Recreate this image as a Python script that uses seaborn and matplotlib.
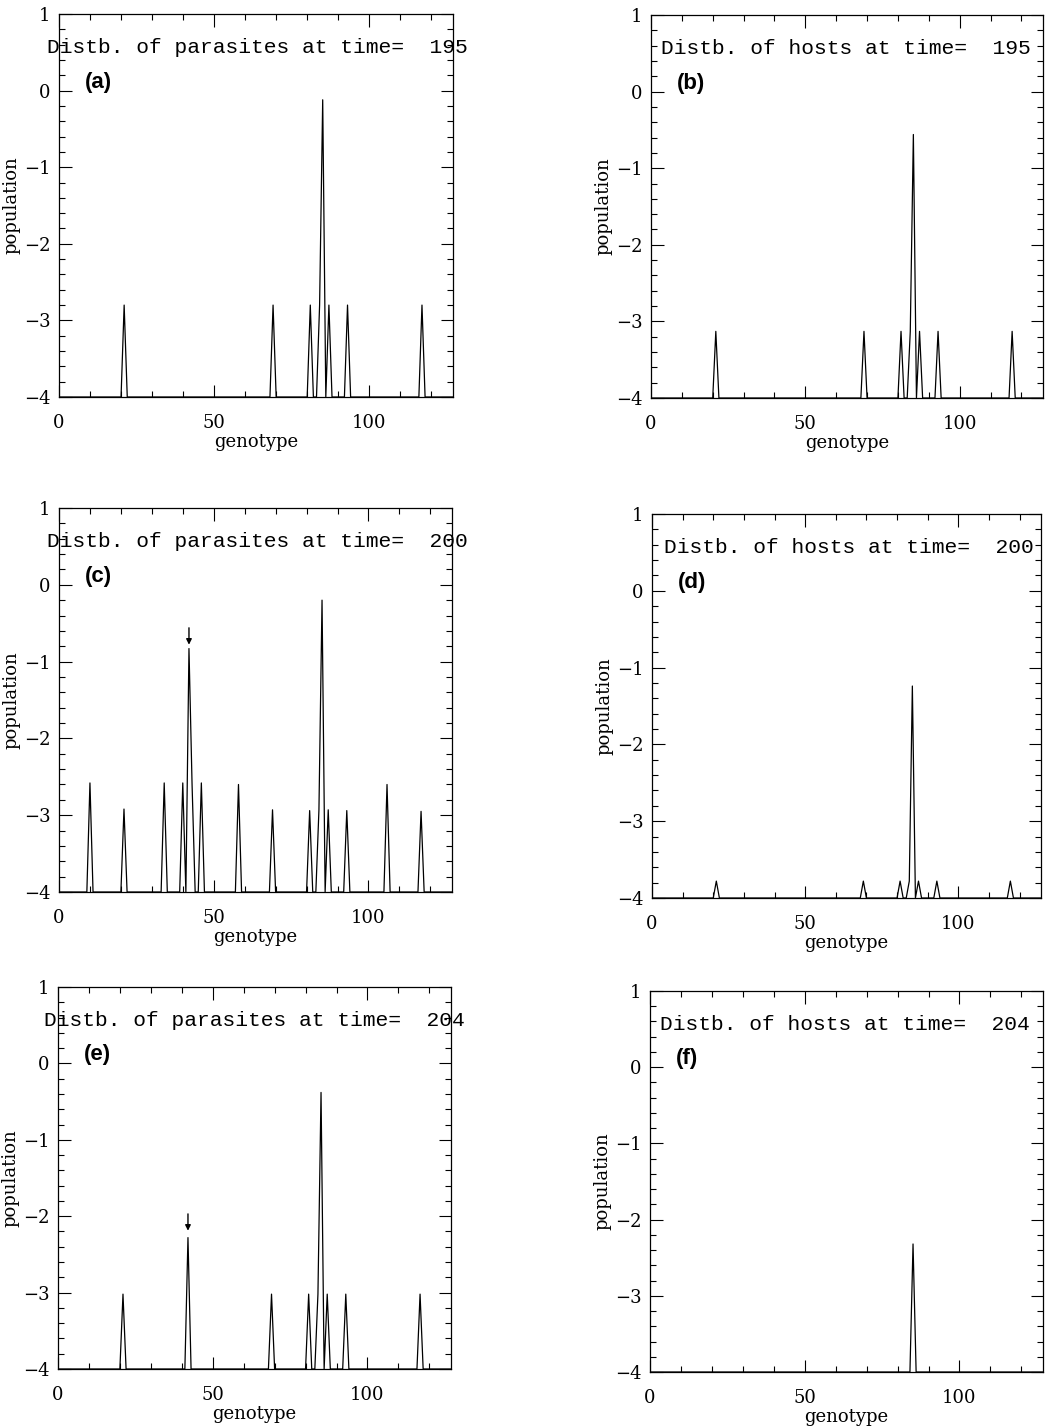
"""
Host-parasite genotype distributions at t = 195, 200, 204 (log10 population).
"""

import matplotlib
matplotlib.use("Agg")

import matplotlib.pyplot as plt
import numpy as np
import pandas as pd
import seaborn as sns

# === data: peaks only (genotype, log10 population); everything else sits at the floor ===
FLOOR = -4.0
N_GENOTYPES = 128

par195_geno = [21, 69, 81, 84, 85, 87, 93, 117]
par195_vals = [-2.8, -2.8, -2.8, -2.8, -0.12, -2.8, -2.8, -2.8]

host195_geno = [21, 69, 81, 84, 85, 87, 93, 117]
host195_vals = [-3.13, -3.13, -3.13, -3.13, -0.56, -3.13, -3.13, -3.13]

par200_geno = [10, 21, 34, 40, 42, 43, 46, 58, 69, 81, 84, 85, 87, 93, 106, 117]
par200_vals = [-2.58, -2.92, -2.58, -2.58, -0.83, -2.6, -2.58, -2.6,
               -2.93, -2.94, -2.93, -0.2, -2.93, -2.94, -2.6, -2.95]

host200_geno = [21, 69, 81, 84, 85, 87, 93, 117]
host200_vals = [-3.78, -3.78, -3.78, -3.78, -1.24, -3.78, -3.78, -3.78]

par204_geno = [21, 42, 69, 81, 84, 85, 87, 93, 117]
par204_vals = [-3.02, -2.28, -3.02, -3.02, -3.02, -0.38, -3.02, -3.02, -3.02]

host204_geno = [85]
host204_vals = [-2.32]

titles = [
    "Distb. of parasites at time=  195",
    "Distb. of hosts at time=  195",
    "Distb. of parasites at time=  200",
    "Distb. of hosts at time=  200",
    "Distb. of parasites at time=  204",
    "Distb. of hosts at time=  204",
]
panel_tags = ["(a)", "(b)", "(c)", "(d)", "(e)", "(f)"]
arrow_tips = [None, None, (42, -0.56, -0.78), None, (42, -1.97, -2.19), None]

W, H = 1049, 1428
# axes boxes in pixels: left, top, right, bottom
boxes = [
    (59, 14, 453, 397), (651, 15, 1043, 398),
    (59, 508, 452, 892), (652, 514, 1041, 898),
    (58, 987, 451, 1369), (650, 991, 1043, 1372),
]
title_x = [-3.9, 3.2, -4.0, 3.9, -4.5, 3.3]


def make_series(geno, vals):
    pop = np.full(N_GENOTYPES, FLOOR)
    pop[geno] = vals
    return pd.DataFrame({"genotype": np.arange(N_GENOTYPES), "population": pop})


def main() -> None:
    sns.set_style("ticks")
    plt.rcParams["font.family"] = ["DejaVu Serif"]
    plt.rcParams["text.color"] = "black"
    plt.rcParams["axes.labelcolor"] = "black"
    plt.rcParams["xtick.color"] = "black"
    plt.rcParams["ytick.color"] = "black"

    fig = plt.figure(figsize=(W / 100, H / 100), dpi=100)
    series = [
        make_series(par195_geno, par195_vals), make_series(host195_geno, host195_vals),
        make_series(par200_geno, par200_vals), make_series(host200_geno, host200_vals),
        make_series(par204_geno, par204_vals), make_series(host204_geno, host204_vals),
    ]

    for i, df in enumerate(series):
        l, t, r, b = boxes[i]
        ax = fig.add_axes([l / W, 1 - b / H, (r - l) / W, (b - t) / H])
        sns.lineplot(data=df, x="genotype", y="population", ax=ax,
                     color="black", linewidth=0.9)

        ax.set_xlim(0, 127)
        ax.set_ylim(-4, 1)
        ax.set_xticks([0, 50, 100])
        ax.set_xticks(np.arange(0, 128, 10), minor=True)
        ax.set_yticks([-4, -3, -2, -1, 0, 1])
        ax.set_yticks(np.arange(-4, 1.01, 0.2), minor=True)
        ax.tick_params(which="both", direction="in", top=True, right=True,
                       width=0.8, color="black")
        ax.tick_params(which="major", length=9)
        ax.tick_params(which="minor", length=4.5)
        ax.tick_params(axis="x", which="major", pad=12, labelsize=13)
        ax.tick_params(axis="y", which="major", pad=6, labelsize=13)
        for sp in ax.spines.values():
            sp.set_linewidth(0.9)
            sp.set_color("black")

        ax.set_xlabel("genotype", fontsize=13, labelpad=1)
        ax.set_ylabel("population", fontsize=13)
        ax.yaxis.set_label_coords(-39 / (r - l), 0.5)

        ax.text(title_x[i], 0.56, titles[i], fontsize=15.3, va="center", ha="left",
                family=["Liberation Mono", "DejaVu Sans Mono"], clip_on=False)
        ax.text(8.5, 0.11, panel_tags[i], fontsize=16, fontweight="bold",
                family=["Liberation Sans", "DejaVu Sans"], va="center", ha="left")

        if arrow_tips[i] is not None:
            gx, y0, y1 = arrow_tips[i]
            ax.annotate("", xy=(gx, y1), xytext=(gx, y0),
                        arrowprops=dict(arrowstyle="-|>", color="black", lw=1.0,
                                        mutation_scale=8, shrinkA=0, shrinkB=0))

    fig.savefig("out.png", dpi=100)


if __name__ == "__main__":
    main()
